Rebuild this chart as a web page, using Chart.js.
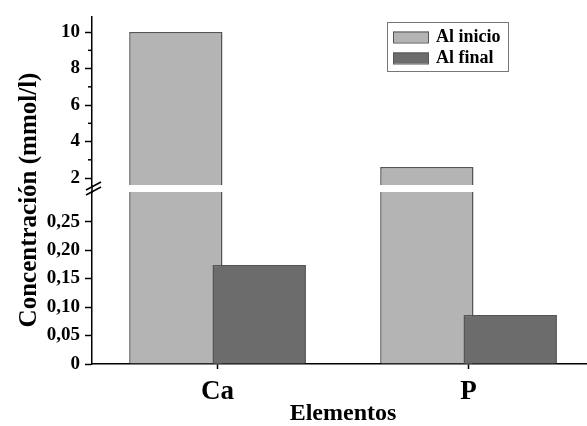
<!DOCTYPE html>
<html>
<head>
<meta charset="utf-8">
<script src="https://cdn.jsdelivr.net/npm/chart.js@4.4.1/dist/chart.umd.min.js"></script>
<style>
  html, body { margin: 0; padding: 0; background: #fff; overflow: hidden; }
  #wrap { position: relative; width: 587px; height: 426px; overflow: hidden; }
  #wrap canvas { position: absolute; left: 0; top: 0; }
</style>
</head>
<body>
<div id="wrap">
  <canvas id="lowChart" width="600" height="426"></canvas>
  <canvas id="topChart" width="600" height="426"></canvas>
</div>
<script>
const categories = ["Ca", "P"];
const alInicio = [10, 2.6];
const alFinal = [0.174, 0.086];
const upperTicks = [2, 4, 6, 8, 10];
const upperMinorTicks = [3, 5, 7, 9];
const lowerTicks = [0, 0.05, 0.10, 0.15, 0.20, 0.25];

const serif = "'Liberation Serif', 'Times New Roman', serif";
const lightFill = "#b4b4b4";
const darkFill = "#6c6c6c";
const barEdge = "#555";

function datasets() {
  return [
    { label: "Al inicio", data: alInicio, backgroundColor: lightFill, borderColor: barEdge, borderWidth: 1.5 },
    { label: "Al final", data: alFinal, backgroundColor: darkFill, borderColor: barEdge, borderWidth: 1.5 }
  ];
}

const commonX = { type: "category", offset: true };

function yAxis(min, max, ticks, fmt) {
  return {
    min: min,
    max: max,
    afterBuildTicks: s => { s.ticks = ticks.map(v => ({ value: v })); },
    afterFit: s => { s.width = 92; },
    border: { color: "#000", width: 1.5 },
    grid: { drawOnChartArea: false, drawTicks: true, tickLength: 7, tickColor: "#000", tickWidth: 1.5 },
    ticks: { color: "#000", padding: 5, font: { family: serif, size: 19, weight: "bold" }, callback: fmt }
  };
}

// the second series overlaps the first one: draw it again on top
const finalOnTop = {
  id: "finalOnTop",
  afterDatasetsDraw(chart) {
    const meta = chart.getDatasetMeta(1);
    Chart.helpers.clipArea(chart.ctx, chart.chartArea);
    meta.controller.draw();
    Chart.helpers.unclipArea(chart.ctx);
  }
};

// legend, minor ticks and the axis break marks
const upperExtras = {
  id: "upperExtras",
  afterDraw(chart) {
    const ctx = chart.ctx;
    const y = chart.scales.y;
    const left = chart.chartArea.left;
    ctx.save();
    ctx.strokeStyle = "#000";
    ctx.lineWidth = 1.5;
    upperMinorTicks.forEach(v => {
      const py = y.getPixelForValue(v);
      ctx.beginPath();
      ctx.moveTo(left - 4, py);
      ctx.lineTo(left, py);
      ctx.stroke();
    });
    // axis through the break
    ctx.beginPath();
    ctx.moveTo(left, chart.chartArea.bottom);
    ctx.lineTo(left, 193);
    ctx.stroke();
    [0, 5].forEach(d => {
      ctx.beginPath();
      ctx.moveTo(left - 6, 190 + d);
      ctx.lineTo(left + 9, 182 + d);
      ctx.stroke();
    });

    // legend
    ctx.lineWidth = 1;
    ctx.strokeStyle = "#777";
    ctx.strokeRect(387.5, 22.5, 121, 49);
    ctx.font = "bold 18px " + serif;
    ctx.textBaseline = "middle";
    ctx.textAlign = "left";
    chart.data.datasets.forEach((ds, i) => {
      const ty = 37 + i * 21;
      ctx.fillStyle = ds.backgroundColor;
      ctx.fillRect(393, ty - 5.5, 36, 11);
      ctx.strokeStyle = barEdge;
      ctx.strokeRect(393.5, ty - 5, 35, 11);
      ctx.fillStyle = "#000";
      ctx.fillText(ds.label, 436, ty);
    });
    ctx.restore();
  }
};

const yTitle = {
  id: "yTitle",
  afterDraw(chart) {
    const ctx = chart.ctx;
    ctx.save();
    ctx.translate(30, 200);
    ctx.rotate(-Math.PI / 2);
    ctx.font = "bold 25px " + serif;
    ctx.fillStyle = "#000";
    ctx.textAlign = "center";
    ctx.textBaseline = "middle";
    ctx.fillText("Concentración (mmol/l)", 0, 0);
    ctx.restore();
  }
};

const barLayout = { bar: { categoryPercentage: 0.664, barPercentage: 1.12 } };

new Chart(document.getElementById("topChart"), {
  type: "bar",
  data: { labels: categories, datasets: datasets() },
  options: {
    responsive: false,
    animation: false,
    devicePixelRatio: 1,
    layout: { padding: { left: 0, right: 6, top: 14, bottom: 241 } },
    datasets: barLayout,
    plugins: { legend: { display: false }, tooltip: { enabled: false } },
    scales: {
      x: Object.assign({ display: false }, commonX),
      y: yAxis(1.62, 10.86, upperTicks, v => String(v))
    }
  },
  plugins: [finalOnTop, upperExtras]
});

new Chart(document.getElementById("lowChart"), {
  type: "bar",
  data: { labels: categories, datasets: datasets() },
  options: {
    responsive: false,
    animation: false,
    devicePixelRatio: 1,
    layout: { padding: { left: 0, right: 6, top: 192, bottom: 0 } },
    datasets: barLayout,
    plugins: { legend: { display: false }, tooltip: { enabled: false } },
    scales: {
      x: Object.assign({
        afterFit: s => { s.height = 62; },
        border: { color: "#000", width: 1.5 },
        grid: { offset: false, drawOnChartArea: false, drawTicks: true, tickLength: 5, tickColor: "#000", tickWidth: 1.5 },
        ticks: { color: "#000", padding: 7, font: { family: serif, size: 27, weight: "bold" } },
        title: { display: true, text: "Elementos", color: "#000", padding: { top: 0, bottom: 0 }, font: { family: serif, size: 24, weight: "bold", lineHeight: 1.0 } }
      }, commonX),
      y: yAxis(0, 0.302, lowerTicks, v => v === 0 ? "0" : v.toFixed(2).replace(".", ","))
    }
  },
  plugins: [finalOnTop, yTitle]
});
</script>
</body>
</html>
